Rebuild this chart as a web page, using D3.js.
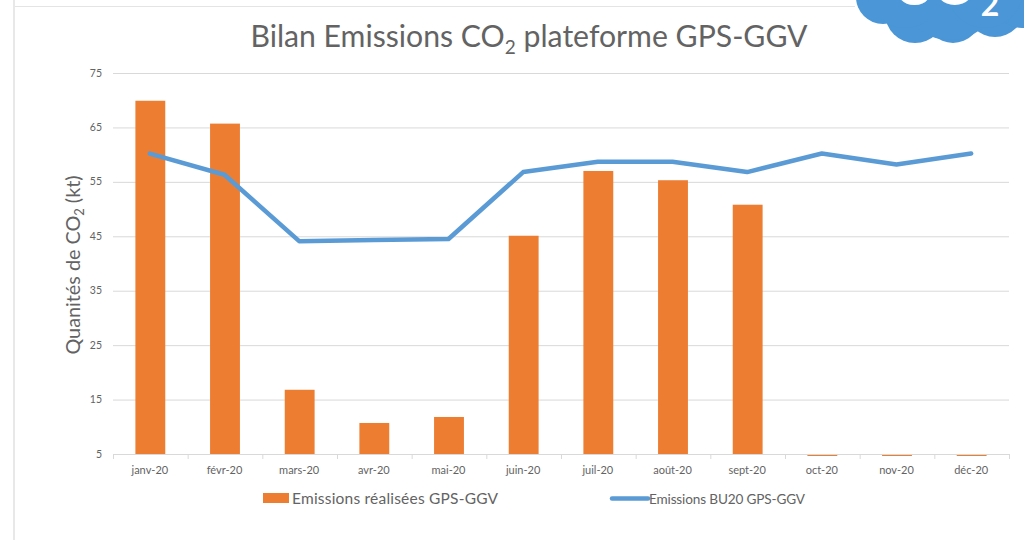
<!DOCTYPE html>
<html><head><meta charset="utf-8">
<script src="https://cdn.jsdelivr.net/npm/d3@7"></script>
<style>html,body{margin:0;padding:0;background:#fff}svg{display:block}text{font-family:Lato,"Open Sans",sans-serif}</style>
</head><body><svg id="c" width="1024" height="540"></svg>
<script>
const categories=["janv-20","févr-20","mars-20","avr-20","mai-20","juin-20","juil-20","août-20","sept-20","oct-20","nov-20","déc-20"];
const realised=[69.9,65.7,16.8,10.7,11.8,45.1,57,55.3,50.8,4.9,4.9,4.9];
const budget=[60.2,56.3,44.1,44.3,44.5,56.8,58.7,58.7,56.8,60.2,58.2,60.2];
const yTicks=[5,15,25,35,45,55,65,75];
const titleMain="Bilan Emissions CO";
const titleEnd=" plateforme GPS-GGV";
const yLabel="Quanités de CO";
const legendBar="Emissions réalisées GPS-GGV";
const legendLine="Emissions BU20 GPS-GGV";
const cloudBumps=[[883,-3,27],[915,13,30],[953,15,28],[995,8,29],[1022,0,28],[950,-10,50],[905,-10,38],[985,-10,38]];

const svg=d3.select("#c");
const x=d3.scaleBand().domain(categories).range([113,1009]).paddingInner(0.6).paddingOuter(0.3);
const xStep=d3.scaleBand().domain(categories).range([113,1009]);
const y=d3.scaleLinear().domain([5,75]).range([454,73]);
const ink="#636363",grid="#d9d9d9",orange="#ed7d31",blue="#5b9bd5";

svg.append("rect").attr("x",13).attr("y",0).attr("width",2).attr("height",540).attr("fill","#e8e8e8");
svg.append("line").attr("x1",15).attr("x2",855).attr("y1",6.5).attr("y2",6.5).attr("stroke","#e4e4e4").attr("stroke-width",1.2);

// logo
const logo=svg.append("g");
logo.selectAll("circle").data(cloudBumps).join("circle")
 .attr("cx",d=>d[0]).attr("cy",d=>d[1]).attr("r",d=>d[2]).attr("fill","#4a96d6");
logo.append("text").attr("x",938).attr("y",5).attr("text-anchor","middle").attr("font-size",52).attr("font-weight",700).attr("letter-spacing",6).attr("fill","#fff").text("CO");
logo.append("text").attr("x",990).attr("y",16).attr("text-anchor","middle").attr("font-size",32).attr("font-weight",700).attr("fill","#fff").text("2");

// grid
svg.append("g").selectAll("line").data(yTicks.slice(1)).join("line")
 .attr("x1",113).attr("x2",1009).attr("y1",d=>y(d)+.5).attr("y2",d=>y(d)+.5).attr("stroke",grid).attr("stroke-width",1);

// y axis labels
svg.append("g").selectAll("text").data(yTicks).join("text")
 .attr("x",102).attr("y",d=>y(d)+3.5).attr("text-anchor","end").attr("font-size",10.5).attr("fill",ink).text(d=>d);

// bars
svg.append("g").selectAll("rect").data(realised).join("rect")
 .attr("x",(d,i)=>x(categories[i])).attr("width",x.bandwidth())
 .attr("y",d=>d>=5?y(d):y(5)+1).attr("height",d=>d>=5?y(5)-y(d):1)
 .attr("fill",orange);

// x axis
const ax=svg.append("g");
ax.append("line").attr("x1",113).attr("x2",1009).attr("y1",454.5).attr("y2",454.5).attr("stroke",grid);
ax.selectAll("line.t").data([...categories.map(c=>xStep(c)),1009]).join("line").attr("class","t")
 .attr("x1",d=>d+.5).attr("x2",d=>d+.5).attr("y1",454).attr("y2",459).attr("stroke",grid);
ax.selectAll("text").data(categories).join("text")
 .attr("x",d=>xStep(d)+xStep.bandwidth()/2-0.5).attr("y",474).attr("text-anchor","middle").attr("font-size",11).attr("fill",ink).text(d=>d);

// line
svg.append("path").datum(budget)
 .attr("d",d3.line().x((d,i)=>xStep(categories[i])+xStep.bandwidth()/2-0.5).y(d=>y(d)))
 .attr("fill","none").attr("stroke",blue).attr("stroke-width",4.5).attr("stroke-linejoin","round").attr("stroke-linecap","round");

// title
const t=svg.append("text").attr("x",529).attr("y",47).attr("text-anchor","middle").attr("font-size",30.2).attr("fill",ink);
t.append("tspan").text(titleMain);
t.append("tspan").attr("font-size",19).attr("dy",7).text("2");
t.append("tspan").attr("dy",-7).text(titleEnd);

// y title
const yt=svg.append("text").attr("transform","translate(80,265) rotate(-90)").attr("text-anchor","middle").attr("font-size",19.8).attr("fill",ink);
yt.append("tspan").text(yLabel);
yt.append("tspan").attr("font-size",13).attr("dy",4).text("2");
yt.append("tspan").attr("dy",-4).text(" (kt)");

// legend
svg.append("rect").attr("x",263).attr("y",493).attr("width",26).attr("height",10).attr("fill",orange);
svg.append("text").attr("x",292).attr("y",504).attr("font-size",15.5).attr("textLength",206).attr("fill",ink).text(legendBar);
svg.append("line").attr("x1",612).attr("x2",648).attr("y1",498.5).attr("y2",498.5).attr("stroke",blue).attr("stroke-width",4.5).attr("stroke-linecap","round");
svg.append("text").attr("x",649).attr("y",504).attr("font-size",13.6).attr("textLength",156).attr("fill",ink).text(legendLine);
</script></body></html>
